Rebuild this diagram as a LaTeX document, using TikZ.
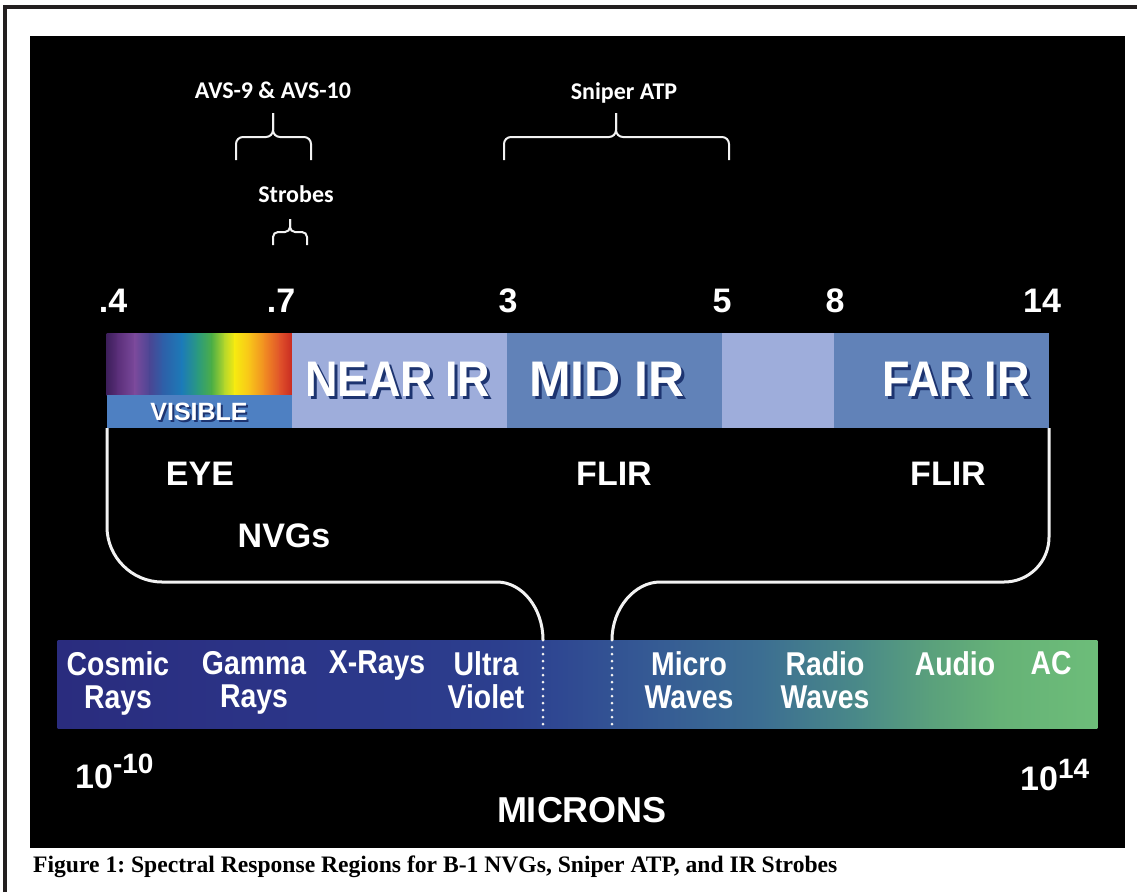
\documentclass[tikz,border=0pt]{standalone}
\usepackage{fontspec}
\usepackage{xcolor}
\usepackage{tikz}
\newfontfamily\arialfont{Liberation Sans}
\newfontfamily\arialnarrow{Liberation Sans}[FakeStretch=0.9]
\newfontfamily\arialcond{Liberation Sans}[FakeStretch=0.86]
\newfontfamily\calibrifont{Carlito}
\newfontfamily\timesfont{Liberation Serif}
\frenchspacing
\definecolor{FrameGray}{HTML}{231F20}
\definecolor{IRLight}{HTML}{9EADDB}
\definecolor{IRDark}{HTML}{6182B8}
\definecolor{VisStrip}{HTML}{4E80C2}
\definecolor{TextShadow}{HTML}{1D3470}
\definecolor{LineWhite}{HTML}{F2F2F2}
% rainbow stops
\definecolor{rA}{HTML}{3E1F5C}
\definecolor{rB}{HTML}{5B2F7A}
\definecolor{rC}{HTML}{7B4A9C}
\definecolor{rD}{HTML}{4A4694}
\definecolor{rE}{HTML}{2E5FA8}
\definecolor{rF}{HTML}{1C7BB8}
\definecolor{rG}{HTML}{2B9A7E}
\definecolor{rH}{HTML}{4EAF45}
\definecolor{rI}{HTML}{B8D82A}
\definecolor{rJ}{HTML}{F7EA10}
\definecolor{rK}{HTML}{F8C21A}
\definecolor{rL}{HTML}{F08A22}
\definecolor{rM}{HTML}{E0522A}
\definecolor{rN}{HTML}{C82A22}
% spectrum bar stops
\definecolor{sA}{HTML}{2A2C7E}
\definecolor{sB}{HTML}{2B3588}
\definecolor{sC}{HTML}{2C3F8E}
\definecolor{sD}{HTML}{2F4892}
\definecolor{sE}{HTML}{355A94}
\definecolor{sF}{HTML}{3C6E92}
\definecolor{sG}{HTML}{4A8A88}
\definecolor{sH}{HTML}{5AA07C}
\definecolor{sI}{HTML}{66B277}
\definecolor{sJ}{HTML}{6DBD79}

\tikzset{
  numlabel/.style={text=white, inner sep=0pt, anchor=base, font=\arialfont\bfseries\fontsize{34}{36}\selectfont},
  toollabel/.style={text=white, inner sep=0pt, anchor=base, font=\arialfont\bfseries\fontsize{34}{36}\selectfont},
  bandtext/.style={text=white, inner sep=0pt, anchor=base, font=\arialnarrow\bfseries\fontsize{50}{52}\selectfont},
  wavetext/.style={text=white, inner sep=0pt, anchor=north, align=center, font=\arialcond\bfseries\fontsize{33}{33}\selectfont},
  sensortext/.style={text=white, inner sep=0pt, anchor=base, font=\calibrifont\bfseries\fontsize{24}{26}\selectfont},
  brace/.style={draw=LineWhite, line width=2pt},
  bracket/.style={draw=LineWhite, line width=3pt},
  dotconn/.style={draw=LineWhite, line width=3pt, line cap=round, dash pattern=on 0pt off 7pt}
}
% white text with a dark drop shadow
\newcommand{\shadowed}[2]{%
  \makebox[0pt][l]{\hspace*{#1}\raisebox{-#1}{\textcolor{TextShadow}{#2}}}#2}

\begin{document}
\begin{tikzpicture}[x=1pt,y=-1pt]
\useasboundingbox (0,0) rectangle (1137,892);
\fill[white] (0,0) rectangle (1137,892);
% frame and panel
\draw[FrameGray, line width=4pt] (5,892) -- (5,7) -- (1137,7);
\fill[black] (30,36) rectangle (1125,848);

% sensor braces
\node[sensortext] (avs) at (273,98) {AVS-9 \& AVS-10};
\node[sensortext] (sniper) at (624,99) {Sniper ATP};
\node[sensortext] (strobes) at (296,202) {Strobes};
\coordinate (avsL) at (236,160);
\coordinate (avsR) at (311,160);
\coordinate (avsTip) at (273,113);
\coordinate (snpL) at (504,160);
\coordinate (snpR) at (729,160);
\coordinate (snpTip) at (616,113);
\coordinate (strL) at (273,245);
\coordinate (strR) at (307,245);
\coordinate (strTip) at (290,219);
\draw[brace, rounded corners=7pt] (avsL) |- (avsTip |- 0,137) -- (avsTip);
\draw[brace, rounded corners=7pt] (avsR) |- (avsTip |- 0,137) -- (avsTip);
\draw[brace, rounded corners=7pt] (snpL) |- (snpTip |- 0,137) -- (snpTip);
\draw[brace, rounded corners=7pt] (snpR) |- (snpTip |- 0,137) -- (snpTip);
\draw[brace, rounded corners=5pt] (strL) |- (strTip |- 0,232) -- (strTip);
\draw[brace, rounded corners=5pt] (strR) |- (strTip |- 0,232) -- (strTip);

% wavelength marks
\node[numlabel] (w04) at (113,312) {.4};
\node[numlabel] (w07) at (281,312) {.7};
\node[numlabel] (w3) at (508,312) {3};
\node[numlabel] (w5) at (722,312) {5};
\node[numlabel] (w8) at (835,312) {8};
\node[numlabel] (w14) at (1042,312) {14};

% infrared bar
\foreach \xa/\ca/\xb/\cb in {107/rA/118/rB, 118/rB/135/rC, 135/rC/150/rD, 150/rD/163/rE,
    163/rE/182/rF, 182/rF/198/rG, 198/rG/212/rH, 212/rH/225/rI, 225/rI/235/rJ,
    235/rJ/250/rK, 250/rK/265/rL, 265/rL/280/rM, 280/rM/292/rN}
  \shade[left color=\ca, right color=\cb] (\xa-0.4,333) rectangle (\xb+0.4,395);
\fill[VisStrip] (107,395) rectangle (292,428);
\fill[IRLight] (292,333) rectangle (507,428);
\fill[IRDark] (507,333) rectangle (722,428);
\fill[IRLight] (722,333) rectangle (834,428);
\fill[IRDark] (834,333) rectangle (1049,428);
\node[bandtext, font=\arialfont\bfseries\fontsize{25}{26}\selectfont] (visible) at (199,420) {\shadowed{2pt}{VISIBLE}};
\node[bandtext] (nearir) at (398,396) {\shadowed{3pt}{NEAR IR}};
\node[bandtext, font=\arialfont\bfseries\fontsize{50}{52}\selectfont] (midir) at (607,396) {\shadowed{3pt}{MID IR}};
\node[bandtext] (farir) at (956,396) {\shadowed{3pt}{FAR IR}};

% sensors
\node[toollabel] (eye) at (200,485) {EYE};
\node[toollabel] (flirA) at (614,485) {FLIR};
\node[toollabel] (flirB) at (948,485) {FLIR};
\node[toollabel] (nvgs) at (284,547) {NVGs};

% electromagnetic spectrum bar
\foreach \xa/\ca/\xb/\cb in {58/sA/300/sB, 300/sB/500/sC, 500/sC/560/sD, 560/sD/650/sE,
    650/sE/760/sF, 760/sF/860/sG, 860/sG/930/sH, 930/sH/1000/sI, 1000/sI/1097/sJ}
  \shade[left color=\ca, right color=\cb] (\xa-0.4,640) rectangle (\xb+0.4,728);
\node[wavetext] (cosmic) at (118,651) {Cosmic\\Rays};
\node[wavetext] (gamma) at (254,651) {Gamma\\Rays};
\node[wavetext] (xrays) at (377,651) {X-Rays};
\node[wavetext] (uv) at (486,651) {Ultra\\Violet};
\node[wavetext] (micro) at (689,651) {Micro\\Waves};
\node[wavetext] (radio) at (825,651) {Radio\\Waves};
\node[wavetext] (audio) at (955,651) {Audio};
\node[wavetext] (ac) at (1051,651) {AC};

% bracket from infrared bar to spectrum bar
\coordinate (barSW) at (107,428);
\coordinate (barSE) at (1049,428);
\coordinate (uvEdge) at (543,640);
\coordinate (mwEdge) at (612,640);
\coordinate (uvFoot) at (543,728);
\coordinate (mwFoot) at (612,728);
\draw[bracket] (barSW) -- (107,527) .. controls (107,557) and (132,582) .. (162,582)
  -- (497,582) .. controls (522,582) and (543,608) .. (uvEdge);
\draw[bracket] (barSE) -- (1049,537) .. controls (1049,562) and (1029,582) .. (1004,582)
  -- (660,582) .. controls (635,582) and (612,608) .. (mwEdge);
\draw[dotconn] (uvEdge) -- (uvFoot);
\draw[dotconn] (mwEdge) -- (mwFoot);

% scale ends
\node[numlabel, anchor=base west] (lowend) at (75,788)
  {10\raisebox{15pt}{\fontsize{28}{28}\selectfont -10}};
\node[numlabel, anchor=base west] (highend) at (1020,790)
  {10\raisebox{12pt}{\fontsize{28}{28}\selectfont 14}};
\node[numlabel, font=\arialfont\bfseries\fontsize{36}{38}\selectfont] (microns) at (582,822) {MICRONS};

% caption
\node[anchor=base west, inner sep=0pt, font=\timesfont\bfseries\fontsize{23.6}{24}\selectfont] (caption) at (33,872)
  {Figure 1: Spectral Response Regions for B-1 NVGs, Sniper ATP, and IR Strobes};
\end{tikzpicture}
\end{document}
